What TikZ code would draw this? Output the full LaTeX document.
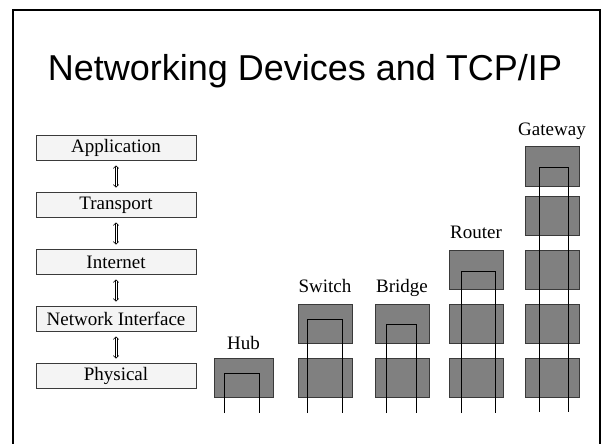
\documentclass[tikz,border=0pt]{standalone}
\usepackage{fontspec}
\setmainfont{Liberation Serif}
\newfontfamily\titlefont{Liberation Sans}
\usepackage{tikz}
\usetikzlibrary{arrows.meta,positioning}
\definecolor{devGray}{HTML}{808080}
\definecolor{edgeGray}{HTML}{3A3A3A}
\definecolor{layerFill}{HTML}{F4F4F4}

\begin{document}
\begin{tikzpicture}[x=1pt,y=-1pt,
  layer/.style={draw=edgeGray,fill=layerFill,line width=0.8pt,minimum width=160pt,minimum height=25pt,inner sep=0pt,outer ysep=5pt,font=\fontsize{19}{19}\selectfont},
  rail/.style={line width=0.6pt,shorten <=1.2pt,shorten >=1.2pt},
  railtips/.style={line width=0.6pt,dash pattern=on 0pt off 60pt,{Straight Barb[length=2.5pt,width=5.5pt]}-{Straight Barb[length=2.5pt,width=5.5pt]}},
  dev/.style={draw=edgeGray,fill=devGray,line width=0.8pt,minimum width=54pt,minimum height=39.5pt,inner sep=0pt},
  devname/.style={font=\fontsize{19}{19}\selectfont,inner sep=0pt},
  wire/.style={black,line width=1pt}]
\useasboundingbox (0,0) rectangle (602,444);
% --- slide frame and title ---
\draw[line width=2pt] (13,444) -- (13,10) -- (600,10) -- (600,444);
\node[font=\titlefont\fontsize{36}{36}\selectfont,anchor=base] (title) at (305,80) {Networking Devices and TCP/IP};
% --- TCP/IP layers ---
\foreach \name/\txt [count=\i] in {app/Application,trans/Transport,inet/Internet,nif/Network Interface,phys/Physical}
  \node[layer] (\name) at (116,{91+57*\i}) {\txt};
\foreach \a/\b in {app/trans,trans/inet,inet/nif,nif/phys}{
  \draw[rail,transform canvas={xshift=1pt}] (\a) -- (\b);
  \draw[rail,transform canvas={xshift=-1pt}] (\a) -- (\b);
  \draw[railtips] (\a) -- (\b);
}
% --- Hub ---
\node[dev,minimum width=59pt] (hub1) at (243.5,378) {};
\node[devname,above=8pt of hub1.north,anchor=base] (hubname) {Hub};
\coordinate (hubA) at (224,413);
\coordinate (hubB) at (259,413);
\draw[wire] (hubA) -- ++(0,-40) -| (hubB);
% --- Switch ---
\foreach \y [count=\i] in {378,324}
  \node[dev] (sw\i) at (325,\y) {};
\node[devname,above=11pt of sw2.north,anchor=base] (swname) {Switch};
\coordinate (swA) at (307,413);
\coordinate (swB) at (342,413);
\draw[wire] (swA) -- ++(0,-94) -| (swB);
% --- Bridge ---
\foreach \y [count=\i] in {378,324}
  \node[dev] (br\i) at (402,\y) {};
\node[devname,above=11pt of br2.north,anchor=base] (brname) {Bridge};
\coordinate (brA) at (386,413);
\coordinate (brB) at (416,413);
\draw[wire] (brA) -- ++(0,-89) -| (brB);
% --- Router ---
\foreach \y [count=\i] in {378,324,270}
  \node[dev] (ro\i) at (476,\y) {};
\node[devname,above=11pt of ro3.north,anchor=base] (roname) {Router};
\coordinate (roA) at (461,413);
\coordinate (roB) at (495,413);
\draw[wire] (roA) -- ++(0,-142) -| (roB);
% --- Gateway ---
\foreach \y [count=\i] in {378,324,270,216,166.5}
  \node[dev] (gw\i) at (552,\y) {};
\node[devname,above=11pt of gw5.north,anchor=base] (gwname) {Gateway};
\coordinate (gwA) at (539,412);
\coordinate (gwB) at (568,412);
\draw[wire] (gwA) -- ++(0,-245) -| (gwB);
\end{tikzpicture}
\end{document}
